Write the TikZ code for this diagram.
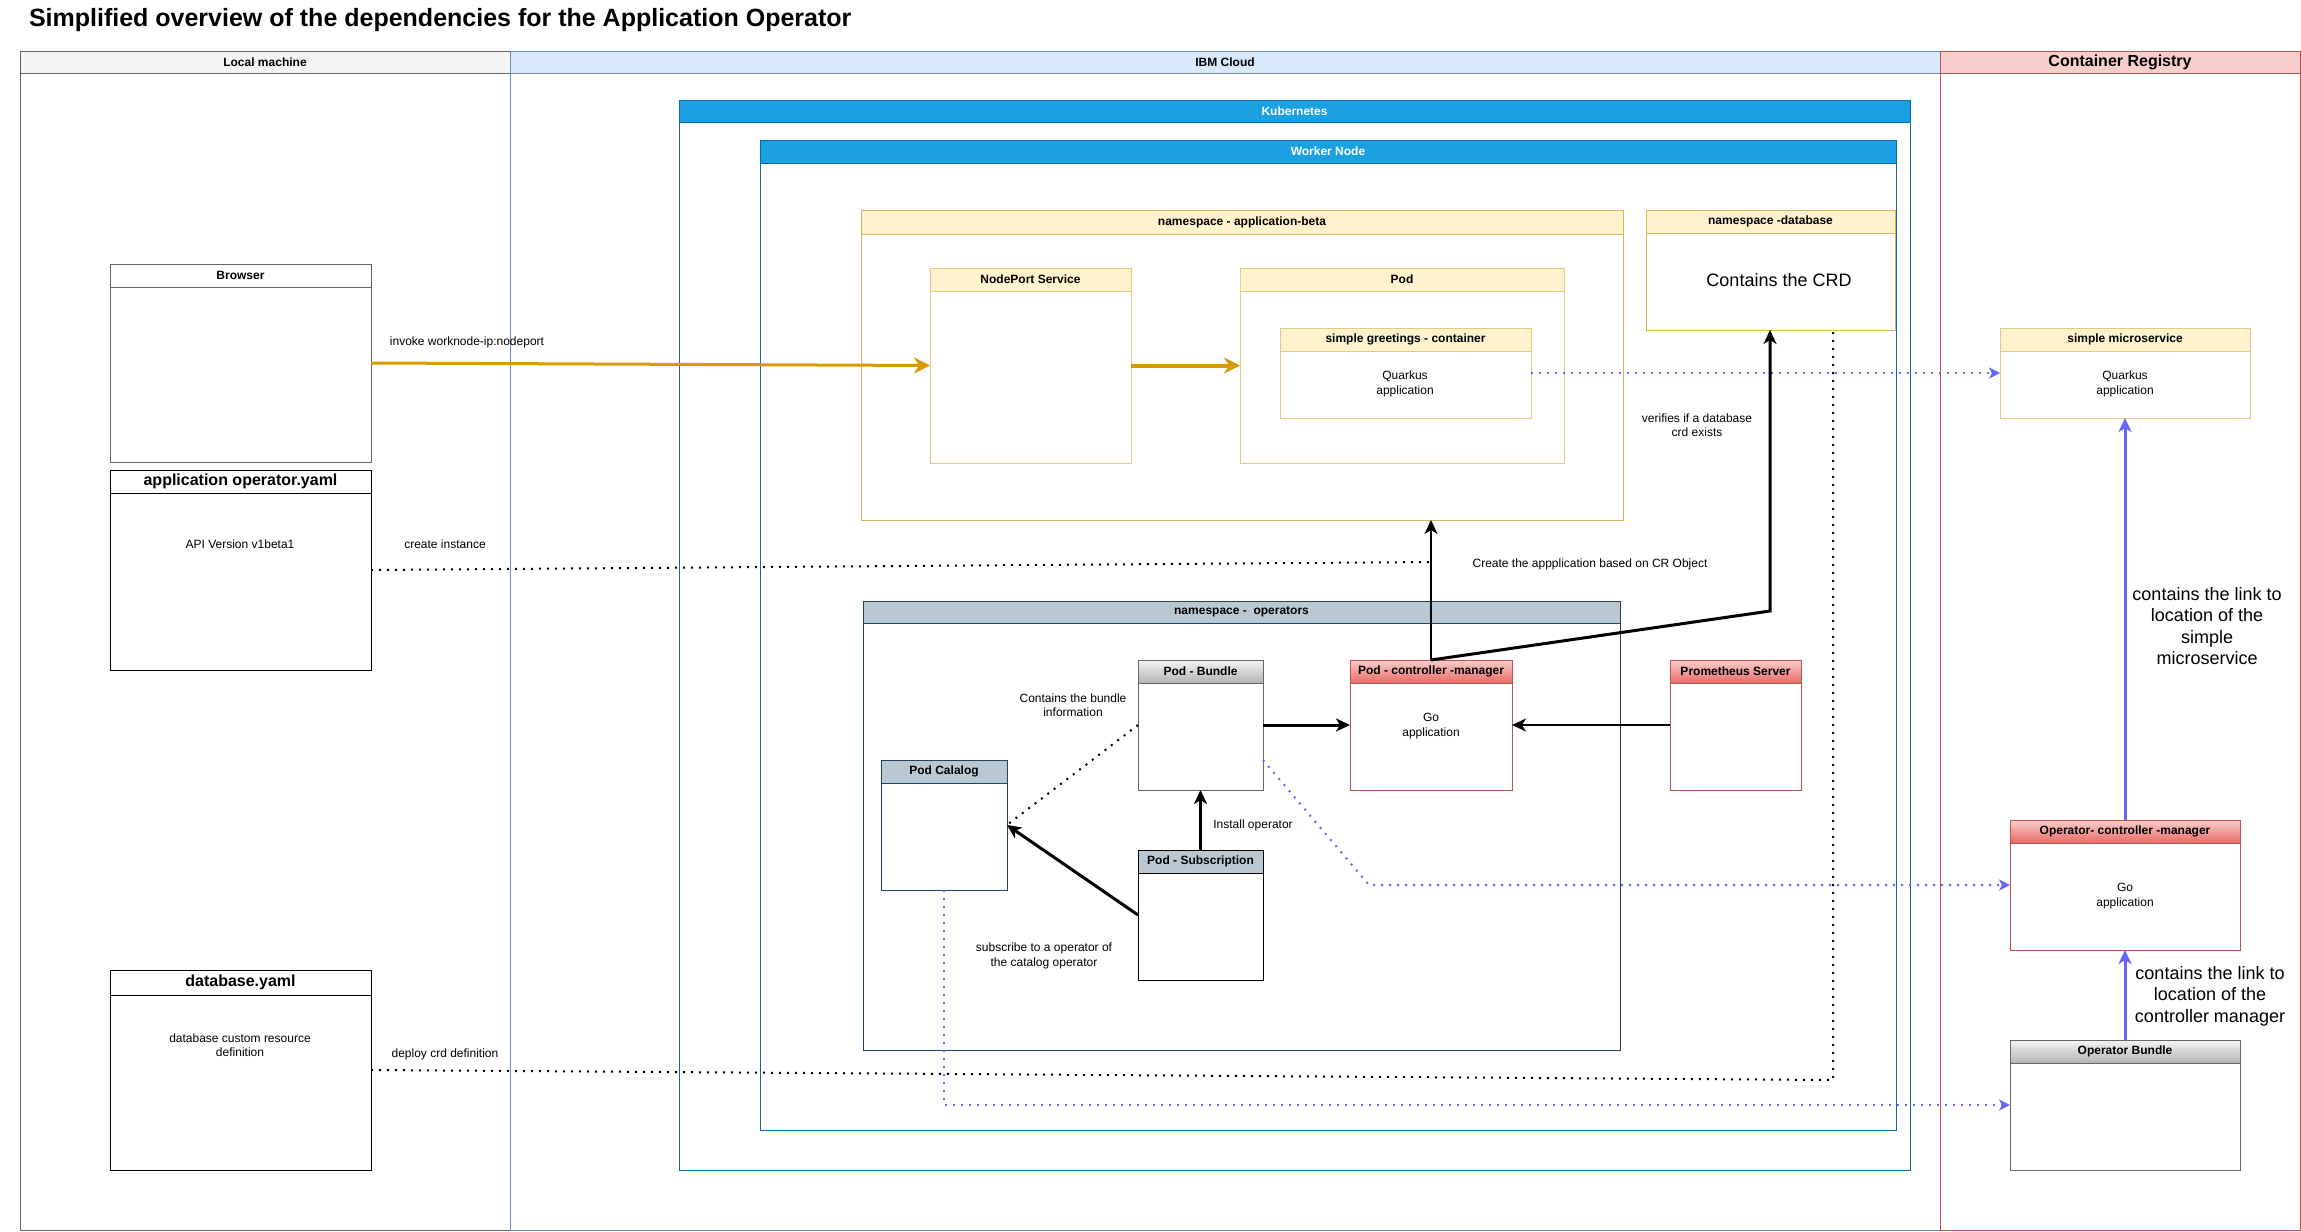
\documentclass[tikz,border=0pt]{standalone}
\usepackage{fontspec}
\setmainfont{Liberation Sans}
\usetikzlibrary{arrows.meta,fit}
\definecolor{lgfill}{HTML}{F5F5F5}
\definecolor{lgline}{HTML}{666666}
\definecolor{ibfill}{HTML}{DAE8FC}
\definecolor{ibline}{HTML}{6C8EBF}
\definecolor{crfill}{HTML}{F8CECC}
\definecolor{crline}{HTML}{B85450}
\definecolor{kfill}{HTML}{1BA1E2}
\definecolor{kline}{HTML}{006EAF}
\definecolor{yfill}{HTML}{FFF2CC}
\definecolor{yline}{HTML}{D6B656}
\definecolor{ylight}{HTML}{E3CB85}
\definecolor{sfill}{HTML}{BAC8D3}
\definecolor{sline}{HTML}{23445D}
\definecolor{rtop}{HTML}{F8CECC}
\definecolor{rbot}{HTML}{EA6B66}
\definecolor{gtop}{HTML}{F5F5F5}
\definecolor{gbot}{HTML}{B3B3B3}
\definecolor{orng}{HTML}{D79B00}
\definecolor{lila}{HTML}{6666FF}

\begin{document}
\begin{tikzpicture}[x=1pt,y=-1pt,
	every node/.style={inner sep=0pt,outer sep=0pt},
	txt/.style={align=center,font=\fontsize{12}{14.4}\selectfont},
	big/.style={align=center,font=\fontsize{18}{21.6}\selectfont},
	hl/.style={align=center,font=\bfseries\fontsize{12}{14.4}\selectfont},
	hlbig/.style={align=center,font=\bfseries\fontsize{16}{19.2}\selectfont},
	hlwhite/.style={hl,text=white},
	body/.style={draw=#1,fill=white,line width=1pt},
	hd/.style={draw=#1,line width=1pt},
	hdy/.style={hd=#1,fill=yfill},
	hdr/.style={hd=crline,top color=rtop,bottom color=rbot},
	hdg/.style={hd=lgline,top color=gtop,bottom color=gbot},
	hds/.style={hd=#1,fill=sfill},
	hdk/.style={hd=kline,fill=kfill},
	goldarrow/.style={draw=orng,line width=#1,-{Stealth[length=16pt,width=16pt,inset=5pt]}},
	blackarrow/.style={draw=black,line width=#1,-{Stealth[length=14pt,width=13pt,inset=4pt]}},
	lilaarrow/.style={draw=lila,line width=3pt,-{Stealth[length=14pt,width=13pt,inset=4pt]}},
	dots/.style={draw=#1,line width=2pt,dash pattern=on 2pt off 6pt},
	lilados/.style={dots=lila,-{Stealth[length=11pt,width=11pt,inset=3pt]}}]
	\useasboundingbox (0,0) rectangle (2301,1231);
	
	\node[anchor=west,font=\bfseries\fontsize{25}{30}\selectfont] (title) at (29,20) {Simplified overview of the dependencies for the Application Operator};
	
	\node[body=lgline,fit={(20,52)(510,1230)}] (local) {};
	\node[hd=lgline,fill=lgfill,fit={(20,52)(510,73)},label={[hl]center:Local machine}] (local-h) {};
	\node[body=ibline,fit={(510,52)(1940,1230)}] (ibm) {};
	\node[hd=ibline,fill=ibfill,fit={(510,52)(1940,73)},label={[hl]center:IBM Cloud}] (ibm-h) {};
	\node[body=crline,fit={(1940,52)(2300,1230)}] (registry) {};
	\node[hd=crline,fill=crfill,fit={(1940,52)(2300,73)},label={[hlbig]center:Container Registry}] (registry-h) {};
	
	\node[body=lgline,fit={(110,264)(371,462)}] (browser) {};
	\node[hd=lgline,fill=white,fit={(110,264)(371,287)},label={[hl]center:Browser}] (browser-h) {};
	\node[body=black,fit={(110,470)(371,670)}] (appyaml) {};
	\node[hd=black,fill=white,fit={(110,470)(371,493)},label={[hlbig]center:application operator.yaml}] (appyaml-h) {};
	\node[txt] (appyaml-t) at (240,544) {API Version v1beta1};
	\node[body=black,fit={(110,970)(371,1170)}] (dbyaml) {};
	\node[hd=black,fill=white,fit={(110,970)(371,995)},label={[hlbig]center:database.yaml}] (dbyaml-h) {};
	\node[txt] (dbyaml-t) at (240,1045) {database custom resource\\definition};
	
	\node[body=kline,fit={(679,100)(1910,1170)}] (kube) {};
	\node[hdk,fit={(679,100)(1910,122)},label={[hlwhite]center:Kubernetes}] (kube-h) {};
	\node[body=kline,fit={(760,140)(1896,1130)}] (worker) {};
	\node[hdk,fit={(760,140)(1896,163)},label={[hlwhite]center:Worker Node}] (worker-h) {};
	
	\node[body=yline,fit={(861,210)(1623,520)}] (nsapp) {};
	\node[hdy=yline,fit={(861,210)(1623,234)},label={[hl]center:namespace - application-beta}] (nsapp-h) {};
	\node[body=ylight,fit={(930,268)(1131,463)}] (nodeport) {};
	\node[hdy=ylight,fit={(930,268)(1131,291)},label={[hl]center:NodePort Service}] (nodeport-h) {};
	\node[body=ylight,fit={(1240,268)(1564,463)}] (pod) {};
	\node[hdy=ylight,fit={(1240,268)(1564,291)},label={[hl]center:Pod}] (pod-h) {};
	\node[body=ylight,fit={(1280,328)(1531,418)}] (greet) {};
	\node[hdy=ylight,fit={(1280,328)(1531,351)},label={[hl]center:simple greetings - container}] (greet-h) {};
	\node[txt] (greet-t) at (1405,384) {Quarkus\\application};
	
	\node[body=yline,fit={(1646,210)(1895,330)}] (nsdb) {};
	\node[hdy=yline,fit={(1646,210)(1895,233)},label={[hl]center:namespace -database}] (nsdb-h) {};
	\node[big] (nsdb-t) at (1779,280) {Contains the CRD};
	
	\node[body=sline,fit={(863,601)(1620,1050)}] (nsop) {};
	\node[hds=sline,fit={(863,601)(1620,623)},label={[hl]center:namespace -\ \ operators}] (nsop-h) {};
	\node[body=lgline,fit={(1138,660)(1263,790)}] (bundle) {};
	\node[hdg,fit={(1138,660)(1263,683)},label={[hl]center:Pod - Bundle}] (bundle-h) {};
	\node[body=crline,fit={(1350,660)(1512,790)}] (ctrl) {};
	\node[hdr,fit={(1350,660)(1512,683)},label={[hl]center:Pod - controller -manager}] (ctrl-h) {};
	\node[txt] (ctrl-t) at (1431,726) {Go\\application};
	\node[body=crline,fit={(1670,660)(1801,790)}] (prom) {};
	\node[hdr,fit={(1670,660)(1801,683)},label={[hl]center:Prometheus Server}] (prom-h) {};
	\node[body=sline,fit={(881,760)(1007,890)}] (catalog) {};
	\node[hds=sline,fit={(881,760)(1007,783)},label={[hl]center:Pod Calalog}] (catalog-h) {};
	\node[body=black,fit={(1138,850)(1263,980)}] (subscr) {};
	\node[hds=black,fit={(1138,850)(1263,873)},label={[hl]center:Pod - Subscription}] (subscr-h) {};
	
	\node[body=ylight,fit={(2000,328)(2250,418)}] (micro) {};
	\node[hdy=ylight,fit={(2000,328)(2250,351)},label={[hl]center:simple microservice}] (micro-h) {};
	\node[txt] (micro-t) at (2125,384) {Quarkus\\application};
	\node[body=crline,fit={(2010,820)(2240,950)}] (opctrl) {};
	\node[hdr,fit={(2010,820)(2240,843)},label={[hl]center:Operator- controller -manager}] (opctrl-h) {};
	\node[txt] (opctrl-t) at (2125,896) {Go\\application};
	\node[body=lgline,fit={(2010,1040)(2240,1170)}] (opbundle) {};
	\node[hdg,fit={(2010,1040)(2240,1063)},label={[hl]center:Operator Bundle}] (opbundle-h) {};
	
	\coordinate (crobj) at (1431,562);
	\coordinate (crdbend) at (1770,611);
	\coordinate (dbbend) at (1833,1080);
	\coordinate (lilabend) at (1369,885);
	
	\draw[goldarrow=3pt] (browser.east) -- (nodeport.west);
	\draw[goldarrow=4pt] (nodeport.east) -- (pod.west);
	\draw[lilados] (greet.east) -- (micro.west);
	\draw[dots=black] (appyaml.east) -- (crobj);
	\draw[blackarrow=2pt] (ctrl.north) -- (ctrl.north |- nsapp.south);
	\draw[blackarrow=3pt] (ctrl.north) -- (crdbend) -- (crdbend |- nsdb.south);
	\draw[dots=black] (dbyaml.east) -- (dbbend) -- (dbbend |- nsdb.south);
	\draw[blackarrow=3pt] (bundle.east) -- (ctrl.west);
	\draw[blackarrow=2pt] (prom.west) -- (ctrl.east);
	\draw[blackarrow=3pt] (subscr.north) -- (bundle.south);
	\draw[blackarrow=3pt] (subscr.west) -- (catalog.east);
	\draw[dots=black] (bundle.west) -- (catalog.east);
	\draw[lilados] ([yshift=-35pt]bundle.east) -- (lilabend) -- (opctrl.west);
	\draw[lilados] (catalog.south) -- (catalog.south |- opbundle.west) -- (opbundle.west);
	\draw[lilaarrow] (opbundle.north) -- (opctrl.south);
	\draw[lilaarrow] (opctrl.north) -- (micro.south);
	
	\node[txt] (invoke) at (467,342) {invoke worknode-ip:nodeport};
	\node[txt] (create) at (445,544) {create instance};
	\node[txt] (deploy) at (445,1054) {deploy crd definition};
	\node[txt] (crtext) at (1590,564) {Create the appplication based on CR Object};
	\node[txt] (verify) at (1697,425) {verifies if a database\\crd exists};
	\node[txt] (bundleinfo) at (1073,705) {Contains the bundle\\information};
	\node[txt] (install) at (1253,825) {Install operator};
	\node[txt] (subscribe) at (1044,956) {subscribe to a operator of\\the catalog operator};
	\node[big] (linkmicro) at (2207,626) {contains the link to\\location of the\\simple\\microservice};
	\node[big] (linkctrl) at (2210,996) {contains the link to\\location of the\\controller manager};
\end{tikzpicture}
\end{document}
